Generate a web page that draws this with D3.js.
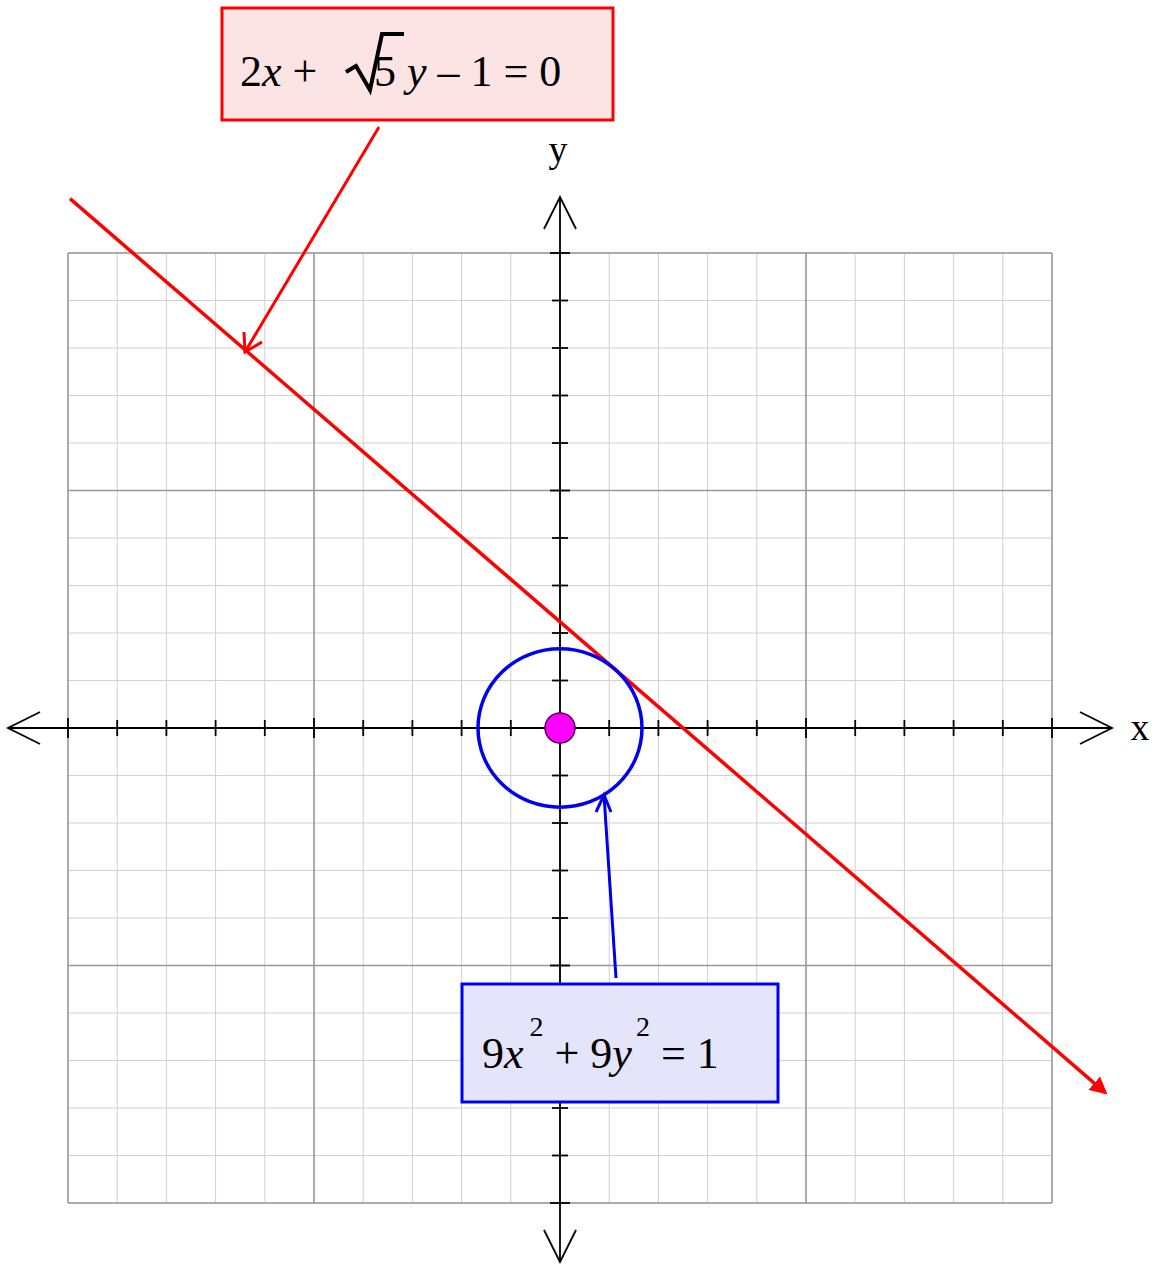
<!DOCTYPE html><html><head><meta charset="utf-8"><script src="https://cdn.jsdelivr.net/npm/d3@7"></script>
<style>body{margin:0;background:#fff}</style></head><body><svg id="c" width="1156" height="1268"></svg>
<script>
const xDomain=[-2,2], yDomain=[-2,2];
const minorStep=0.2, majorStep=1;
const lineA=2, lineB=Math.sqrt(5), lineC=-1; // 2x + √5y - 1 = 0
const lineXs=[-1.992,2.215];
const circleR=1/3;
const lineLabel=["2x + ","5"," y – 1 = 0"];
const circleLabel="9x² + 9y² = 1";

const svg=d3.select("#c");
const x=d3.scaleLinear().domain(xDomain).range([68,1052]);
const y=d3.scaleLinear().domain(yDomain).range([1203,253]);
const defs=svg.append("defs");
defs.append("marker").attr("id","ra").attr("viewBox","0 0 10 10").attr("refX",8).attr("refY",5).attr("markerWidth",5).attr("markerHeight",5).attr("orient","auto")
 .append("path").attr("d","M0,0L10,5L0,10z").attr("fill","red");
const minor=d3.range(-2,2.0001,minorStep).map(v=>+v.toFixed(2));
const major=d3.range(-2,2.0001,majorStep);
const g=svg.append("g");
minor.forEach(v=>{
 g.append("line").attr("x1",x(v)).attr("x2",x(v)).attr("y1",y(2)).attr("y2",y(-2)).attr("stroke","#d0d0d0").attr("stroke-width",1);
 g.append("line").attr("y1",y(v)).attr("y2",y(v)).attr("x1",x(-2)).attr("x2",x(2)).attr("stroke","#d0d0d0").attr("stroke-width",1);
});
major.forEach(v=>{
 g.append("line").attr("x1",x(v)).attr("x2",x(v)).attr("y1",y(2)).attr("y2",y(-2)).attr("stroke","#999").attr("stroke-width",1.5);
 g.append("line").attr("y1",y(v)).attr("y2",y(v)).attr("x1",x(-2)).attr("x2",x(2)).attr("stroke","#999").attr("stroke-width",1.5);
});
// axes
const ax=svg.append("g").attr("stroke","#000").attr("stroke-width",1.8).attr("fill","none");
ax.append("line").attr("x1",8).attr("x2",1112).attr("y1",y(0)).attr("y2",y(0));
ax.append("line").attr("y1",197).attr("y2",1262).attr("x1",x(0)).attr("x2",x(0));
ax.append("path").attr("d",`M40,${y(0)-16}L8,${y(0)}L40,${y(0)+16}`);
ax.append("path").attr("d",`M1080,${y(0)-16}L1112,${y(0)}L1080,${y(0)+16}`);
ax.append("path").attr("d",`M${x(0)-16},229L${x(0)},197L${x(0)+16},229`);
ax.append("path").attr("d",`M${x(0)-16},1230L${x(0)},1262L${x(0)+16},1230`);
minor.forEach(v=>{
 const L=Math.abs(v%1)<1e-6?10:8;
 ax.append("line").attr("x1",x(v)).attr("x2",x(v)).attr("y1",y(0)-L).attr("y2",y(0)+L);
 ax.append("line").attr("y1",y(v)).attr("y2",y(v)).attr("x1",x(0)-L).attr("x2",x(0)+L);
});
svg.append("text").attr("x",1140).attr("y",740).attr("font-family","Liberation Serif").attr("font-size",38).attr("text-anchor","middle").text("x");
svg.append("text").attr("x",558).attr("y",162).attr("font-family","Liberation Serif").attr("font-size",38).attr("text-anchor","middle").text("y");
// line
const fy=xv=>(-lineC-lineA*xv)/lineB;
svg.append("line").attr("x1",x(lineXs[0])).attr("y1",y(fy(lineXs[0]))).attr("x2",x(lineXs[1])).attr("y2",y(fy(lineXs[1])))
 .attr("stroke","red").attr("stroke-width",3.5).attr("marker-end","url(#ra)");
// circle
svg.append("ellipse").attr("cx",x(0)).attr("cy",y(0)).attr("rx",x(circleR)-x(0)).attr("ry",y(0)-y(circleR)).attr("fill","none").attr("stroke","#0000ee").attr("stroke-width",3.5);
svg.append("circle").attr("cx",x(0)).attr("cy",y(0)).attr("r",15).attr("fill","#ff00ff").attr("stroke","#600060").attr("stroke-width",1.5);
// labels
svg.append("rect").attr("x",222).attr("y",8).attr("width",391).attr("height",112).attr("fill","#fde4e4").attr("stroke","red").attr("stroke-width",3);
const t1=svg.append("text").attr("x",240).attr("y",86).attr("font-family","Liberation Serif").attr("font-size",44);
t1.append("tspan").text("2");t1.append("tspan").attr("font-style","italic").text("x");t1.append("tspan").text(" + ");
svg.append("path").attr("d","M346,72L356,66L370,90L382,34L404,34").attr("fill","none").attr("stroke","#000").attr("stroke-width",4);
const t1b=svg.append("text").attr("x",374).attr("y",86).attr("font-family","Liberation Serif").attr("font-size",44);
t1b.append("tspan").text("5 ");t1b.append("tspan").attr("font-style","italic").text("y");t1b.append("tspan").text(" – 1 = 0");
svg.append("line").attr("x1",379).attr("y1",127).attr("x2",245).attr("y2",352).attr("stroke","red").attr("stroke-width",3);
svg.append("path").attr("d","M244,332L245,352L262,342").attr("fill","none").attr("stroke","red").attr("stroke-width",3);
svg.append("rect").attr("x",462).attr("y",984).attr("width",316).attr("height",118).attr("fill","#e4e4fb").attr("stroke","#0000ee").attr("stroke-width",3);
const t2=svg.append("text").attr("x",482).attr("y",1068).attr("font-family","Liberation Serif").attr("font-size",44);
t2.append("tspan").text("9");t2.append("tspan").attr("font-style","italic").text("x");
t2.append("tspan").attr("font-size",28).attr("dy",-32).attr("dx",6).text("2");
t2.append("tspan").attr("dy",32).text(" + 9");t2.append("tspan").attr("font-style","italic").text("y");
t2.append("tspan").attr("font-size",28).attr("dy",-32).attr("dx",4).text("2");
t2.append("tspan").attr("dy",32).text(" = 1");
svg.append("line").attr("x1",616).attr("y1",978).attr("x2",604).attr("y2",795).attr("stroke","#0000ee").attr("stroke-width",3);
svg.append("path").attr("d","M596,812L604,795L611,812").attr("fill","none").attr("stroke","#0000ee").attr("stroke-width",3);
</script></body></html>
